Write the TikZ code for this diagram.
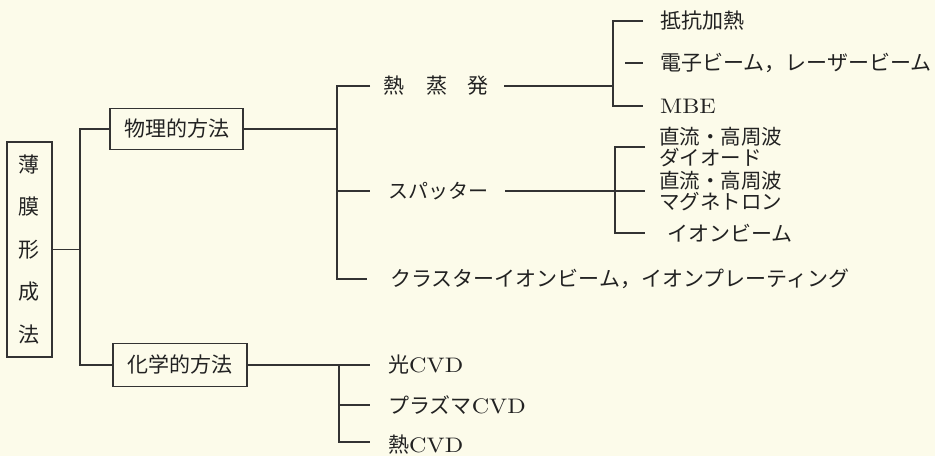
\documentclass[tikz,border=0pt]{standalone}
\usepackage{fontspec}
\newfontfamily\jp{Noto Sans CJK JP}
\newfontfamily\lat{lmroman10-regular.otf}[FakeStretch=1.15]
\definecolor{bg}{HTML}{FCFBEA}
\definecolor{lc}{HTML}{333333}
\definecolor{tc}{HTML}{222222}
\begin{document}
\begin{tikzpicture}[x=1pt,y=-1pt,
  ln/.style={draw=lc,line width=1.3pt},
  bx/.style={draw=lc,line width=1.3pt,rectangle,inner sep=0pt,text=tc,
     font=\jp\fontsize{21}{25}\selectfont},
  jt/.style={inner sep=0pt,anchor=west,text=tc,font=\jp\fontsize{21}{25}\selectfont},
  two/.style={jt,align=left,font=\jp\fontsize{20.5}{21}\selectfont}]
\useasboundingbox (0,0) rectangle (935,456);
\fill[bg] (0,0) rectangle (935,456);
% level 0 and 1 boxes
\node[bx,minimum width=45pt,minimum height=215pt,align=center,
      font=\jp\fontsize{21}{42.5}\selectfont] (root) at (29.5,249.5)
      {薄\\膜\\形\\成\\法};
\node[bx,minimum width=133pt,minimum height=41pt] (phys) at (176.5,129) {物理的方法};
\node[bx,minimum width=134pt,minimum height=43pt] (chem) at (180,365) {化学的方法};
\coordinate (v1) at (80,0);
\coordinate (v2) at (337,0);
\coordinate (v3) at (613,0);
\coordinate (v4) at (615,0);
\coordinate (v5) at (339,0);
% physical methods
\node[jt] (evap) at (383,86) {熱\hspace{22pt}蒸\hspace{20pt}発};
\node[jt,font=\jp\fontsize{20}{24}\selectfont] (sput) at (388,191) {スパッター};
\node[jt] (clus) at (390,279) {クラスターイオンビーム，イオンプレーティング};
% evaporation
\node[jt] (r1) at (660,21) {抵抗加熱};
\node[jt] (r2) at (660,63) {電子ビーム，レーザービーム};
\node[jt,font=\lat\fontsize{21}{25}\selectfont] (r3) at (660,106) {MBE};
% sputter
\node[two] (s1) at (659,147) {直流・高周波\\ダイオード};
\node[two] (s2) at (659,191) {直流・高周波\\マグネトロン};
\node[jt] (s3) at (667,233) {イオンビーム};
% chemical
\node[jt] (c1) at (388,365) {光{\lat\fontsize{21}{25}\selectfont CVD}};
\node[jt] (c2) at (388,405) {プラズマ{\lat\fontsize{21}{25}\selectfont CVD}};
\node[jt] (c3) at (388,445) {熱{\lat\fontsize{21}{25}\selectfont CVD}};
% connectors level 0-1
\draw[ln] (root.east) -- (root.east -| v1);
\draw[ln] (phys.west) -- (phys.west -| v1) -- (chem.west -| v1) -- (chem.west);
% level 1-2 physical
\draw[ln] (phys.east) -- (phys.east -| v2);
\draw[ln] ([xshift=-13pt]evap.west) -- (evap.west -| v2) -- (clus.west -| v2) -- ([xshift=-23pt]clus.west);
\draw[ln] (sput.west -| v2) -- ([xshift=-18pt]sput.west);
% evaporation branches
\draw[ln] ([xshift=16pt]evap.east) -- (evap.east -| v3);
\draw[ln] ([xshift=-17pt]r1.west) -- (r1.west -| v3) -- (r3.west -| v3) -- ([xshift=-17pt]r3.west);
\draw[ln] ([xshift=-35pt]r2.west) -- ([xshift=-17pt]r2.west);
% sputter branches
\draw[ln] ([xshift=17pt]sput.east) -- ([xshift=-14pt]s2.west);
\draw[ln] ([xshift=-14pt]s1.west) -- (s1.west -| v4) -- (s3.west -| v4) -- ([xshift=-22pt]s3.west);
% chemical branches
\draw[ln] (chem.east) -- ([xshift=-18pt]c1.west);
\draw[ln] (c1.west -| v5) -- ([yshift=3pt]c3.west -| v5) -- ([xshift=-18pt,yshift=3pt]c3.west);
\draw[ln] (c2.west -| v5) -- ([xshift=-18pt]c2.west);
\end{tikzpicture}
\end{document}
